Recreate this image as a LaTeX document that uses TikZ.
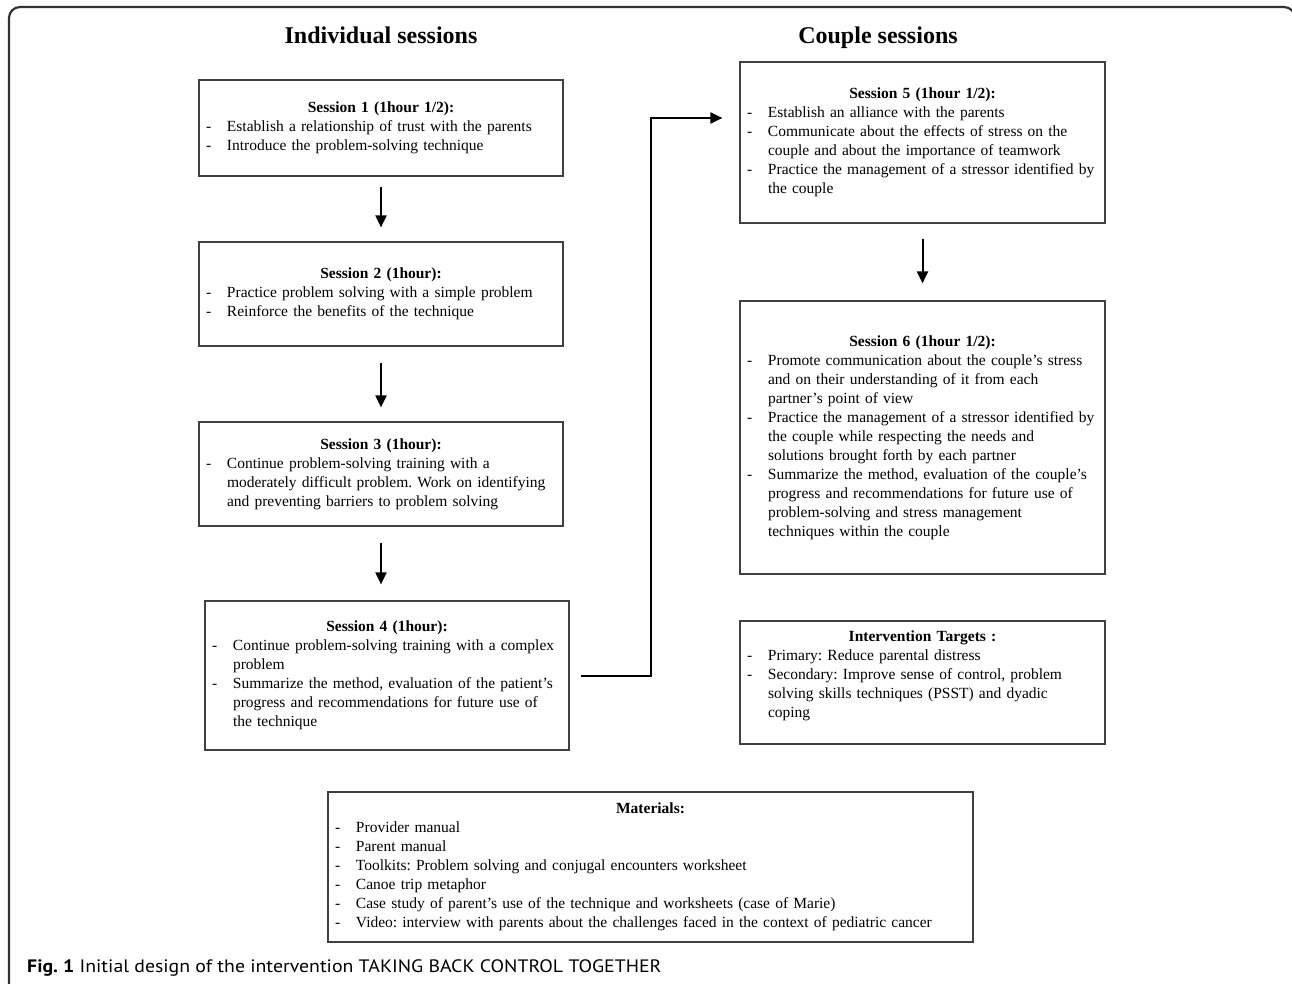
\documentclass[tikz,border=0pt]{standalone}
\usepackage{fontspec}
\setmainfont{Liberation Serif}
\newfontfamily\capfont[FakeStretch=1.1]{PT Sans}
\usetikzlibrary{arrows.meta}
\frenchspacing

\newcommand{\dashln}[1]{\par\noindent\makebox[21pt][l]{-}\mbox{#1}}
\newcommand{\contln}[1]{\par\noindent\hspace*{21pt}\mbox{#1}}
\newcommand{\boxhead}[1]{{\centering\bfseries #1\par}}

\tikzset{
  sessbox/.style={draw=black!75, line width=1.2pt, inner xsep=7pt, inner ysep=4pt,
    align=left, font=\fontsize{15.5}{19}\selectfont},
  arr/.style={line width=2pt, -{Triangle[length=12pt,width=11pt]}},
  coltitle/.style={anchor=base, font=\fontsize{24}{28}\selectfont\bfseries}
}

\begin{document}
\begin{tikzpicture}[x=1pt,y=-1pt]
\useasboundingbox (0,0) rectangle (1292,984);
% frame
\draw[line width=2.2pt, black!80, rounded corners=11pt] (9,995) -- (9,7) -- (1295,7) -- (1295,995);

% column titles
\node[coltitle] (indiv) at (381,44) {Individual sessions};
\node[coltitle] (couple) at (878,44) {Couple sessions};

% individual sessions
\node[sessbox, text width=350pt, minimum height=96pt] (s1) at (381,128) {
\boxhead{Session 1 (1hour 1/2):}
\dashln{Establish a relationship of trust with the parents}
\dashln{Introduce the problem-solving technique}};
\node[sessbox, text width=350pt, minimum height=104pt] (s2) at (381,294) {
\boxhead{Session 2 (1hour):}
\dashln{Practice problem solving with a simple problem}
\dashln{Reinforce the benefits of the technique}};
\node[sessbox, text width=350pt, minimum height=104pt] (s3) at (381,474) {
\boxhead{Session 3 (1hour):}
\dashln{Continue problem-solving training with a}
\contln{moderately difficult problem. Work on identifying}
\contln{and preventing barriers to problem solving}};
\node[sessbox, text width=350pt, minimum height=149pt] (s4) at (387,675.5) {
\boxhead{Session 4 (1hour):}
\dashln{Continue problem-solving training with a complex}
\contln{problem}
\dashln{Summarize the method, evaluation of the patient's}
\contln{progress and recommendations for future use of}
\contln{the technique}};

% couple sessions
\node[sessbox, text width=351pt, minimum height=161pt] (s5) at (922.5,142.5) {
\boxhead{Session 5 (1hour 1/2):}
\dashln{Establish an alliance with the parents}
\dashln{Communicate about the effects of stress on the}
\contln{couple and about the importance of teamwork}
\dashln{Practice the management of a stressor identified by}
\contln{the couple}};
\node[sessbox, text width=351pt, minimum height=273pt] (s6) at (922.5,437.5) {
\boxhead{Session 6 (1hour 1/2):}
\dashln{Promote communication about the couple's stress}
\contln{and on their understanding of it from each}
\contln{partner's point of view}
\dashln{Practice the management of a stressor identified by}
\contln{the couple while respecting the needs and}
\contln{solutions brought forth by each partner}
\dashln{Summarize the method, evaluation of the couple's}
\contln{progress and recommendations for future use of}
\contln{problem-solving and stress management}
\contln{techniques within the couple}};
\node[sessbox, text width=351pt, minimum height=123pt] (tg) at (922.5,682.5) {
\boxhead{Intervention Targets :}
\dashln{Primary: Reduce parental distress}
\dashln{Secondary: Improve sense of control, problem}
\contln{solving skills techniques (PSST) and dyadic}
\contln{coping}\par\nointerlineskip\vbox to 14pt{}};

% materials
\node[sessbox, text width=631pt, minimum height=150pt] (mat) at (650.5,867) {
\boxhead{Materials:}
\dashln{Provider manual}
\dashln{Parent manual}
\dashln{Toolkits: Problem solving and conjugal encounters worksheet}
\dashln{Canoe trip metaphor}
\dashln{Case study of parent's use of the technique and worksheets (case of Marie)}
\dashln{Video: interview with parents about the challenges faced in the context of pediatric cancer}};

% arrows
\coordinate (a4) at (s3.south |- s4.north);
\coordinate (turn) at (651,118);
\coordinate (in5) at (turn -| s5.west);
\draw[arr] ([yshift=-10pt]s1.south) -- ([yshift=14pt]s2.north);
\draw[arr] ([yshift=-16pt]s2.south) -- ([yshift=14pt]s3.north);
\draw[arr] ([yshift=-16pt]s3.south) -- ([yshift=16pt]a4);
\draw[arr] ([yshift=-15pt]s5.south) -- ([yshift=17pt]s6.north);
\draw[arr] ([xshift=11pt]s4.east) -| (turn) -- ([xshift=-17pt]in5);

% caption
\node[anchor=base west, inner sep=0pt, font=\capfont\fontsize{18}{21}\selectfont] (cap) at (27,972)
  {\textbf{Fig. 1} Initial design of the intervention TAKING BACK CONTROL TOGETHER};
\end{tikzpicture}
\end{document}
